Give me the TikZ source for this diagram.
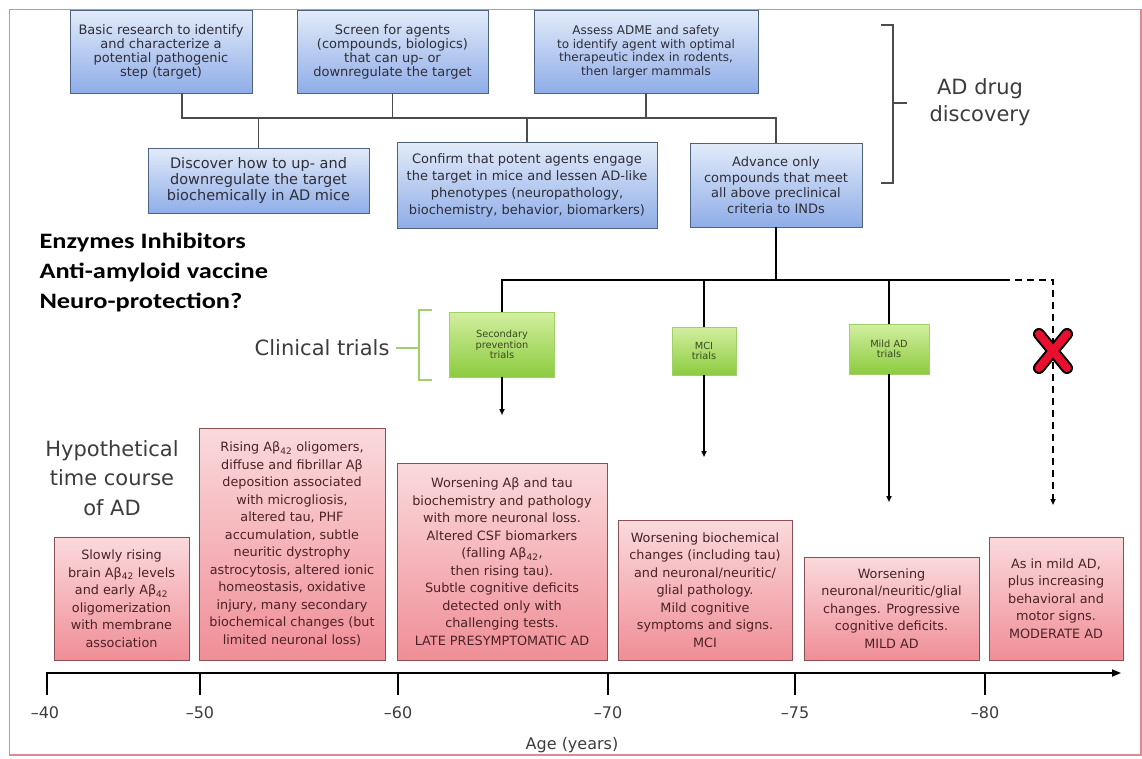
\documentclass[tikz,border=0pt]{standalone}
\usepackage{fontspec}
\setmainfont{DejaVu Sans}
\newfontfamily\calfont[FakeStretch=1.2]{Carlito}
\usetikzlibrary{arrows.meta}
\definecolor{bluetop}{HTML}{E2EBF9}
\definecolor{bluebot}{HTML}{8FADE8}
\definecolor{bluebd}{HTML}{4E6384}
\definecolor{bluetxt}{HTML}{2E2E38}
\definecolor{pinktop}{HTML}{FADADC}
\definecolor{pinkbot}{HTML}{F08E97}
\definecolor{pinkbd}{HTML}{8A5056}
\definecolor{pinktxt}{HTML}{4A2226}
\definecolor{greentop}{HTML}{D2EFA0}
\definecolor{greenbot}{HTML}{8CCB3E}
\definecolor{greenbd}{HTML}{A0D06A}
\definecolor{greentxt}{HTML}{3A4A22}
\definecolor{framebd}{HTML}{E08893}
\definecolor{labgray}{HTML}{3C3C3C}
\definecolor{xred}{HTML}{E8102E}
\newcommand{\Ab}{Aβ\textsubscript{42}}
\newcommand{\fs}[2]{\fontsize{#1}{#2}\selectfont}

\begin{document}
\begin{tikzpicture}[x=1pt,y=-1pt,
    boxsize/.style 2 args={minimum width=#1pt,minimum height=#2pt},
    bluebox/.style={draw=bluebd,line width=0.8pt,top color=bluetop,bottom color=bluebot,
        inner sep=0pt,align=center,text=bluetxt,font=\fs{13}{14}},
    pinkbox/.style={draw=pinkbd,line width=0.8pt,top color=pinktop,bottom color=pinkbot,
        inner sep=0pt,align=center,text=pinktxt,font=\fs{12.8}{17.5}},
    greenbox/.style={draw=greenbd,line width=0.6pt,top color=greentop,bottom color=greenbot,
        inner sep=0pt,align=center,text=greentxt,font=\fs{9.8}{10.5}},
    bigtxt/.style={text=labgray,align=center,font=\fs{21}{29.5}},
    tree/.style={draw=black!70,line width=1.2pt},
    trunk/.style={line width=1.7pt},
    tip/.style={-{Triangle[length=6pt,width=5pt]}},
    axis/.style={line width=1.8pt}]
    \useasboundingbox (0,0) rectangle (1142,758);
    \draw[framebd,line width=1.3pt] (9.5,9.5) rectangle (1141,755);
    % drug discovery
    \node[bluebox,boxsize={182}{83}] (b1) at (161,51.5) {Basic research to identify\\and characterize a\\potential pathogenic\\step (target)};
    \node[bluebox,boxsize={191}{83}] (b2) at (392.5,51.5) {Screen for agents\\(compounds, biologics)\\that can up- or\\downregulate the target};
    \node[bluebox,boxsize={224}{83},font=\fs{12}{13.5}] (b3) at (646,51.5) {Assess ADME and safety\\to identify agent with optimal\\therapeutic index in rodents,\\then larger mammals};
    \node[bluebox,boxsize={221}{65},font=\fs{14.5}{16}] (b4) at (258.5,180.5) {Discover how to up- and\\downregulate the target\\biochemically in AD mice};
    \node[bluebox,boxsize={260}{86},font=\fs{13}{17}] (b5) at (527,185) {Confirm that potent agents engage\\the target in mice and lessen AD-like\\phenotypes (neuropathology,\\biochemistry, behavior, biomarkers)};
    \node[bluebox,boxsize={172}{84},font=\fs{13}{15.5}] (b6) at (776,185) {Advance only\\compounds that meet\\all above preclinical\\criteria to INDs};
    \coordinate (bus) at (0,118);
    \coordinate (b1s) at ([xshift=21pt]b1.south);
    \draw[tree] (b1s) -- (b1s |- bus) -| (b6.north);
    \foreach \n in {b2,b3} \draw[tree] (\n.south) -- (\n.south |- bus);
    \foreach \n in {b4,b5} \draw[tree] (\n.north) -- (\n.north |- bus);
    \draw[black!70,line width=1.2pt] (881,25) -- (893,25) -- (893,183) -- (881,183) (893,103) -- (907,103);
    \node[bigtxt,font=\fs{21}{27}] (add) at (980,102) {AD drug\\discovery};
    % agents
    \node[anchor=west,align=left,font=\calfont\bfseries\fs{22}{30}] (drugs) at (36,273) {Enzymes Inhibitors\\Anti-amyloid vaccine\\Neuro-protection?};
    % clinical trials
    \node[greenbox,boxsize={105}{65}] (g1) at (502,344.5) {Secondary\\prevention\\trials};
    \node[greenbox,boxsize={64}{48}] (g2) at (704,351) {MCI\\trials};
    \node[greenbox,boxsize={80}{50}] (g3) at (889,349) {Mild AD\\trials};
    \node[bigtxt,anchor=east] (ct) at (393,348) {Clinical trials};
    \draw[greenbd,line width=1.2pt] (432,310) -- (419,310) -- (419,380) -- (432,380);
    \draw[greenbd,line width=1.2pt] ([xshift=3pt]ct.east) -- ++(23,0);
    \coordinate (hub) at (0,280);
    \coordinate (dx) at (1003,280);
    \coordinate (dc) at (1053,280);
    \coordinate (da) at (1053,505);
    \coordinate (a1) at (502,415);
    \coordinate (a2) at (704,457);
    \coordinate (a3) at (889,502);
    \draw[trunk] (b6.south) -- (b6.south |- hub);
    \draw[trunk] (g1.north) |- (dx);
    \foreach \n in {g2,g3} \draw[trunk] (\n.north) -- (\n.north |- hub);
    \foreach \n/\a in {g1/a1,g2/a2,g3/a3} \draw[trunk,tip] (\n.south) -- (\a);
    \draw[trunk,tip,dash pattern=on 7pt off 5pt] (dx) -- (dc) -- (da);
    \coordinate (xm) at (1053,351);
    \foreach \c/\w in {black/12pt,xred/8pt}
        \draw[\c,line width=\w,line cap=round] (xm) ++(-14,-17) -- ++(28,34) (xm) ++(14,-17) -- ++(-28,34);
    % time course
    \node[bigtxt] (hyp) at (112,478) {Hypothetical\\time course\\of AD};
    \node[pinkbox,boxsize={135}{123}] (p1) at (121.5,598.5) {Slowly rising\\brain \Ab{} levels\\and early \Ab\\oligomerization\\with membrane\\association};
    \node[pinkbox,boxsize={186}{232}] (p2) at (292,544) {Rising \Ab{} oligomers,\\diffuse and fibrillar Aβ\\deposition associated\\with microgliosis,\\altered tau, PHF\\accumulation, subtle\\neuritic dystrophy\\astrocytosis, altered ionic\\homeostasis, oxidative\\injury, many secondary\\biochemical changes (but\\limited neuronal loss)};
    \node[pinkbox,boxsize={210}{197}] (p3) at (502,561.5) {Worsening Aβ and tau\\biochemistry and pathology\\with more neuronal loss.\\Altered CSF biomarkers\\(falling \Ab,\\then rising tau).\\Subtle cognitive deficits\\detected only with\\challenging tests.\\LATE PRESYMPTOMATIC AD};
    \node[pinkbox,boxsize={174}{140}] (p4) at (705,590) {Worsening biochemical\\changes (including tau)\\and neuronal/neuritic/\\glial pathology.\\Mild cognitive\\symptoms and signs.\\MCI};
    \node[pinkbox,boxsize={175}{103}] (p5) at (891.5,608.5) {Worsening\\neuronal/neuritic/glial\\changes. Progressive\\cognitive deficits.\\MILD AD};
    \node[pinkbox,boxsize={134}{123}] (p6) at (1056,598.5) {As in mild AD,\\plus increasing\\behavioral and\\motor signs.\\MODERATE AD};
    % age axis
    \draw[axis,-{Triangle[length=9pt,width=7pt]}] (47,695) -- (47,673) -- (1121,673);
    \foreach \x in {200,398,608,795,985} \draw[axis] (\x,673) -- (\x,695);
    \foreach \x/\t in {45/40,200/50,398/60,608/70,795/75,985/80}
        \node[text=labgray,font=\fs{16}{18}] at (\x,713) {–\t};
    \node[text=labgray,font=\fs{16}{18}] (age) at (572,745) {Age (years)};
\end{tikzpicture}
\end{document}
